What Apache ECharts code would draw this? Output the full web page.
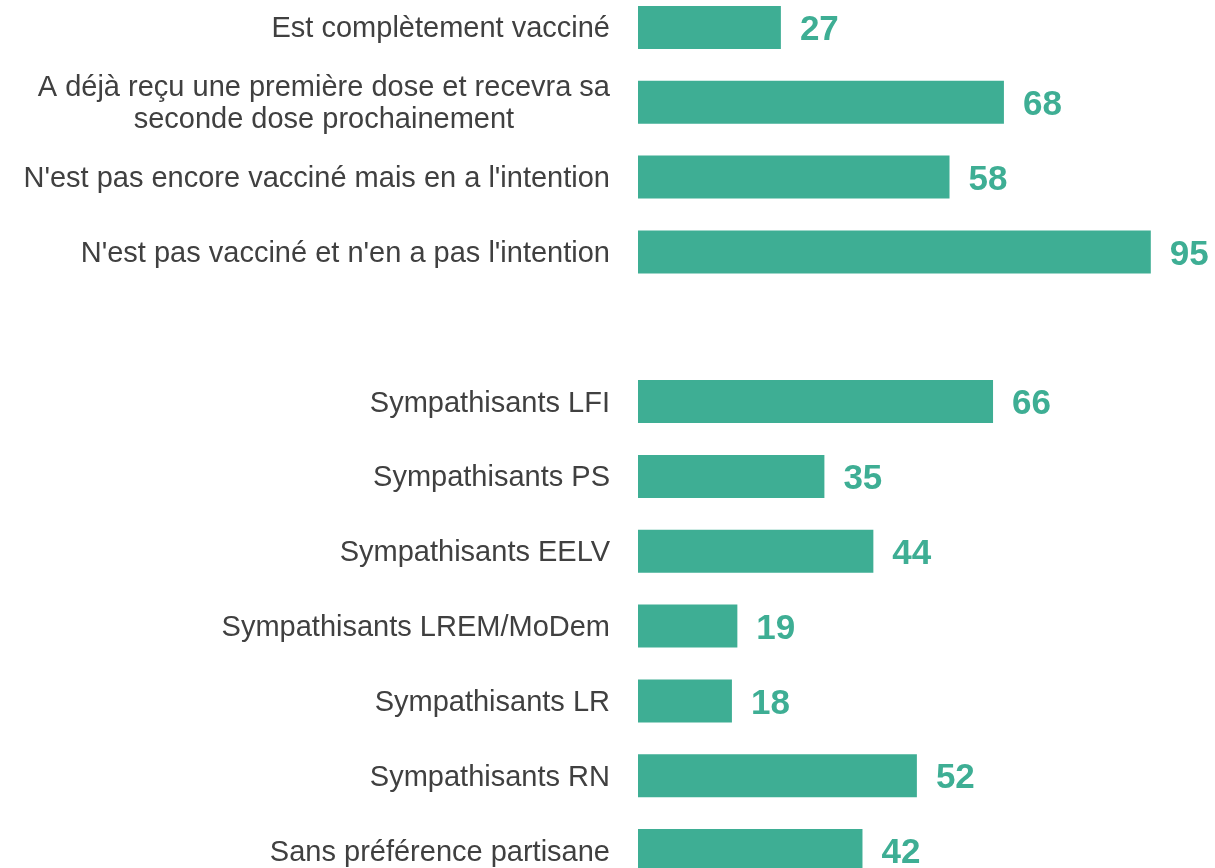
<!DOCTYPE html>
<html>
<head>
<meta charset="utf-8">
<script src="https://cdn.jsdelivr.net/npm/echarts@6/dist/echarts.min.js"></script>
<style>
  html, body { margin: 0; padding: 0; background: #fff; overflow: hidden; width: 1215px; height: 868px; }
  /* le graphique déborde un peu en haut et en bas de la fenêtre */
  #main { position: absolute; left: 0; top: -10px; width: 1215px; height: 898px; }
</style>
</head>
<body>
<div id="main"></div>
<script>
// catégories (ligne vide = séparation entre les deux blocs)
var categories = [
  'Est complètement vacciné',
  'A déjà reçu une première dose et recevra sa\nseconde dose prochainement',
  "N'est pas encore vacciné mais en a l'intention",
  "N'est pas vacciné et n'en a pas l'intention",
  '',
  'Sympathisants LFI',
  'Sympathisants PS',
  'Sympathisants EELV',
  'Sympathisants LREM/MoDem',
  'Sympathisants LR',
  'Sympathisants RN',
  'Sans préférence partisane'
];
var values = [27, 68, 58, 95, '-', 66, 35, 44, 19, 18, 52, 42];

var teal = '#3eae94';
var textColor = '#404040';
var font = 'Liberation Sans, Arial, sans-serif';

var myChart = echarts.init(document.getElementById('main'));
myChart.setOption({
  animation: false,
  grid: {
    left: 634,
    right: 37,
    top: 0,
    bottom: 0
  },
  xAxis: {
    type: 'value',
    min: 0,
    max: 100,
    show: false
  },
  yAxis: {
    type: 'category',
    data: categories,
    inverse: true,
    z: 5,
    axisTick: { show: false },
    // ligne blanche : les barres commencent un peu après l'axe
    axisLine: { show: true, lineStyle: { color: '#fff', width: 8 } },
    axisLabel: {
      margin: 24,
      padding: [4, 0, 0, 0],
      fontFamily: font,
      fontSize: 29,
      color: textColor,
      lineHeight: 32,
      formatter: function (v) {
        if (v.indexOf('\n') < 0) return v;
        return v.split('\n').map(function (l) { return '{c|' + l + '}'; }).join('\n');
      },
      rich: {
        c: {
          align: 'center',
          fontFamily: font,
          fontSize: 29,
          color: textColor,
          lineHeight: 32
        }
      }
    }
  },
  series: [{
    type: 'bar',
    data: values,
    barWidth: 43,
    itemStyle: { color: teal },
    label: {
      show: true,
      position: 'right',
      distance: 19,
      offset: [0, 3],
      fontFamily: font,
      fontSize: 35,
      fontWeight: 'bold',
      color: teal
    }
  }]
});
</script>
</body>
</html>
